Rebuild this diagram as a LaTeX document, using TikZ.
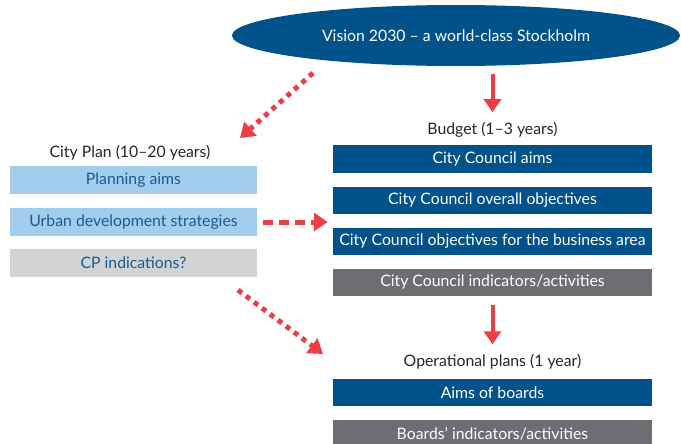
\documentclass[tikz,border=0pt]{standalone}
\usepackage{fontspec}
\setmainfont{Lato}
\definecolor{skblue}{HTML}{00528A}
\definecolor{sklight}{HTML}{A3CDEC}
\definecolor{skgrey}{HTML}{6D6E71}
\definecolor{skpale}{HTML}{D1D3D4}
\definecolor{skred}{HTML}{EE3E45}
\definecolor{skink}{HTML}{1B5A8E}
\def\maunen{skblue}
\def\maupil{skred}
\def\mauchu{black!85}
\def\storl{\fontsize{15.8}{18}\selectfont}
\usetikzlibrary{shapes,arrows.meta,calc}

\begin{document}
\begin{tikzpicture}[x=1pt,y=-1pt,declare function={xl=133.5;xr=492.5;},
	box/.style={minimum height=27pt,inner sep=0pt,font=\storl},
	rbox/.style={box,minimum width=319pt},
	lbox/.style={box,minimum width=247pt,minimum height=28pt},
	lbl/.style={inner sep=2pt,font=\storl,text=\mauchu},
	pil/.style={\maupil,line width=4pt,-{Triangle[length=13pt,width=17pt]}},
	prick/.style={\maupil,line width=5pt,dash pattern=on 5pt off 5pt,-{Triangle[length=14pt,width=18pt]}},
	streck/.style={\maupil,line width=5pt,dash pattern=on 10pt off 6pt,-{Triangle[length=14pt,width=18pt]}}]
	\useasboundingbox (0,0) rectangle (681,444);
	\node[ellipse,fill=\maunen,minimum width=448pt,minimum height=61pt,text=white,font=\storl] (vis) at (456,35.5) {Vision 2030 -- a world-class Stockholm};
	
	% budget column
	\node[lbl] (bud) at (xr,130) {Budget (1--3 years)};
	\node[rbox,fill=\maunen,text=white] (aim) at (xr,159) {City Council aims};
	\node[rbox,fill=\maunen,text=white] (ovr) at (xr,200.5) {City Council overall objectives};
	\node[rbox,fill=\maunen,text=white] (obj) at (xr,241.5) {City Council objectives for the business area};
	\node[rbox,fill=skgrey,text=white] (ind) at (xr,282.5) {City Council indicators/activities};
	\node[lbl] (opl) at (xr,362) {Operational plans (1 year)};
	\node[rbox,fill=\maunen,text=white] (boa) at (xr,392.5) {Aims of boards};
	\node[rbox,fill=skgrey,text=white] (bin) at (xr,433.5) {Boards’ indicators/activities};
	
	% city plan column
	\node[lbl] (cp) at (130,153) {City Plan (10--20 years)};
	\node[lbox,fill=sklight,text=skink] (pla) at (xl,180) {Planning aims};
	\node[lbox,fill=sklight,text=skink] (urb) at (xl,222) {Urban development strategies};
	\node[lbox,fill=skpale,text=skink] (cpi) at (xl,263) {CP indications?};
	
	\path (313,73) coordinate (v1) (240,138) coordinate (c1)
	(238,290) coordinate (c2) (323,354) coordinate (o1);
	
	\draw[pil,shorten <=8pt,shorten >=8pt] (vis.south -| bud.north) -- (bud.north);
	\draw[pil,shorten <=9pt,shorten >=8pt] (ind.south -| opl.north) -- (opl.north);
	\draw[prick] (v1) -- (c1);
	\draw[prick] (c2) -- (o1);
	\draw[streck,shorten <=6pt,shorten >=5pt] (urb.east) -- (urb.east -| obj.west);
\end{tikzpicture}
\end{document}
